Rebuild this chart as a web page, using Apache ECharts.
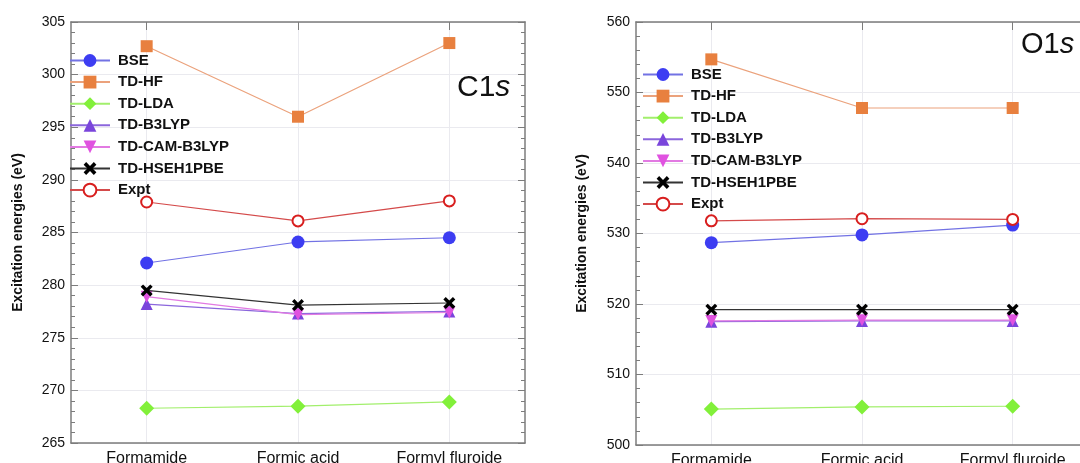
<!DOCTYPE html>
<html>
<head>
<meta charset="utf-8">
<script src="https://cdn.jsdelivr.net/npm/echarts@6/dist/echarts.min.js"></script>
<style>
  html, body { margin: 0; padding: 0; background: #fff; }
  #chart { width: 1080px; height: 463px; }
</style>
</head>
<body>
<div id="chart"></div>
<script>
// molecules on the x axis
var categories = ['Formamide', 'Formic acid', 'Formyl fluroide'];
var methods = ['BSE', 'TD-HF', 'TD-LDA', 'TD-B3LYP', 'TD-CAM-B3LYP', 'TD-HSEH1PBE', 'Expt'];

// C1s excitation energies (eV)
var c1sBSE = [282.1, 284.1, 284.5];
var c1sHF = [302.7, 296.0, 303.0];
var c1sLDA = [268.3, 268.5, 268.9];
var c1sB3LYP = [278.2, 277.3, 277.5];
var c1sCAM = [278.9, 277.2, 277.4];
var c1sHSE = [279.5, 278.1, 278.3];
var c1sExpt = [287.9, 286.1, 288.0];

// O1s excitation energies (eV)
var o1sBSE = [528.7, 529.8, 531.2];
var o1sHF = [554.7, 547.8, 547.8];
var o1sLDA = [505.1, 505.4, 505.5];
var o1sB3LYP = [517.5, 517.6, 517.6];
var o1sCAM = [517.6, 517.7, 517.7];
var o1sHSE = [519.2, 519.2, 519.2];
var o1sExpt = [531.8, 532.1, 532.0];

var c1sData = [c1sBSE, c1sHF, c1sLDA, c1sB3LYP, c1sCAM, c1sHSE, c1sExpt];
var o1sData = [o1sBSE, o1sHF, o1sLDA, o1sB3LYP, o1sCAM, o1sHSE, o1sExpt];

var FONT = '"Liberation Sans", Arial, sans-serif';
var AXIS_GRAY = '#7c7c7c';
var GRID_GRAY = '#eaeaef';
var CROSS = 'path://M2,0 L5,3 L8,0 L10,2 L7,5 L10,8 L8,10 L5,7 L2,10 L0,8 L3,5 L0,2 Z';

// top axis gets half steps so its ticks / split lines fall on the categories
var halfSteps = ['', categories[0], '', categories[1], '', categories[2], ''];
function onCategory(index) { return index % 2 === 1; }

// marker look for each method
var styles = [
    { symbol: 'circle', size: 13, color: '#3d3df2', line: '#7272e4' },
    { symbol: 'rect', size: 12, color: '#e8803f', line: '#eba27c' },
    { symbol: 'diamond', size: 15, color: '#82f03a', line: '#a2ef6c' },
    { symbol: 'triangle', size: 12, color: '#7a45db', line: '#8b66dc' },
    { symbol: 'triangle', size: 12, color: '#e052e0', line: '#e27ae2', rotate: 180 },
    { symbol: CROSS, size: 12, color: '#000000', line: '#333333' },
    { symbol: 'emptyCircle', size: 11, color: '#d81e1e', line: '#d44a4a' }
];

function makeSeries(dataList, idx) {
    return dataList.map(function (vals, i) {
        var s = styles[i];
        return {
            name: methods[i],
            type: 'line',
            xAxisIndex: idx,
            yAxisIndex: idx,
            data: vals,
            symbol: s.symbol,
            symbolSize: s.size,
            symbolRotate: s.rotate || 0,
            itemStyle: { color: s.color, borderWidth: s.symbol === 'emptyCircle' ? 2 : 0, borderColor: s.color },
            lineStyle: { color: s.line, width: 1.2 },
            z: 3 + i
        };
    });
}

function bottomX(idx) {
    return {
        type: 'category', gridIndex: idx, data: categories, position: 'bottom',
        axisLine: { lineStyle: { color: AXIS_GRAY, width: 1.5 } },
        axisTick: { alignWithLabel: true, inside: true, length: 8, lineStyle: { color: AXIS_GRAY } },
        axisLabel: { color: '#111', fontSize: 16, fontFamily: FONT, margin: 8 },
        splitLine: { show: false }
    };
}
function topX(idx) {
    return {
        type: 'category', gridIndex: idx, data: halfSteps, position: 'top', boundaryGap: false,
        axisLine: { lineStyle: { color: AXIS_GRAY, width: 1.5 } },
        axisTick: { inside: true, length: 8, interval: onCategory, lineStyle: { color: AXIS_GRAY } },
        axisLabel: { show: false },
        splitLine: { show: true, interval: onCategory, lineStyle: { color: GRID_GRAY, width: 1 } }
    };
}
function leftY(idx, min, max, step) {
    return {
        type: 'value', gridIndex: idx, min: min, max: max, interval: step, position: 'left',
        axisLine: { show: true, lineStyle: { color: AXIS_GRAY, width: 1.5 } },
        axisTick: { show: true, inside: true, length: 7, lineStyle: { color: AXIS_GRAY } },
        minorTick: { show: true, splitNumber: 5, length: 4, lineStyle: { color: AXIS_GRAY } },
        axisLabel: { color: '#111', fontSize: 14, fontFamily: FONT, margin: 6 },
        splitLine: { show: true, lineStyle: { color: GRID_GRAY, width: 1 } },
        name: 'Excitation energies (eV)',
        nameLocation: 'middle',
        nameGap: idx === 0 ? 46 : 47,
        nameTextStyle: { color: '#111', fontSize: 14, fontWeight: 'bold', fontFamily: FONT }
    };
}
function rightY(idx, min, max, step) {
    return {
        type: 'value', gridIndex: idx, min: min, max: max, interval: step, position: 'right',
        axisLine: { show: true, lineStyle: { color: AXIS_GRAY, width: 1.5 } },
        axisTick: { show: true, inside: true, length: 7, lineStyle: { color: AXIS_GRAY } },
        minorTick: { show: true, splitNumber: 5, length: 4, lineStyle: { color: AXIS_GRAY } },
        axisLabel: { show: false },
        splitLine: { show: false }
    };
}
function legendAt(left, top) {
    return {
        data: methods, orient: 'vertical', left: left, top: top, padding: 0,
        itemWidth: 40, itemHeight: 16, itemGap: 6.6,
        textStyle: { color: '#111', fontSize: 15, fontWeight: 'bold', fontFamily: FONT, padding: [0, 0, 0, 3] },
        selectedMode: false
    };
}

var option = {
    animation: false,
    grid: [
        { left: 71, top: 22, width: 454, height: 421, outerBoundsMode: 'none' },
        { left: 636, top: 22, width: 452, height: 423, outerBoundsMode: 'none' }
    ],
    xAxis: [bottomX(0), bottomX(1), topX(0), topX(1)],
    yAxis: [leftY(0, 265, 305, 5), leftY(1, 500, 560, 10), rightY(0, 265, 305, 5), rightY(1, 500, 560, 10)],
    legend: [legendAt(69, 53), legendAt(642, 67)],
    graphic: [
        {
            type: 'text', left: 457, top: 73,
            style: {
                text: '{a|C1}{b|s}',
                rich: {
                    a: { fontSize: 30, fontFamily: FONT, fill: '#111' },
                    b: { fontSize: 30, fontFamily: FONT, fontStyle: 'italic', fill: '#111' }
                }
            }
        },
        {
            type: 'text', left: 1021, top: 30,
            style: {
                text: '{a|O1}{b|s}',
                rich: {
                    a: { fontSize: 29, fontFamily: FONT, fill: '#111' },
                    b: { fontSize: 29, fontFamily: FONT, fontStyle: 'italic', fill: '#111' }
                }
            }
        }
    ],
    series: makeSeries(c1sData, 0).concat(makeSeries(o1sData, 1))
};

var myechart = echarts.init(document.getElementById('chart'));
myechart.setOption(option);
</script>
</body>
</html>
